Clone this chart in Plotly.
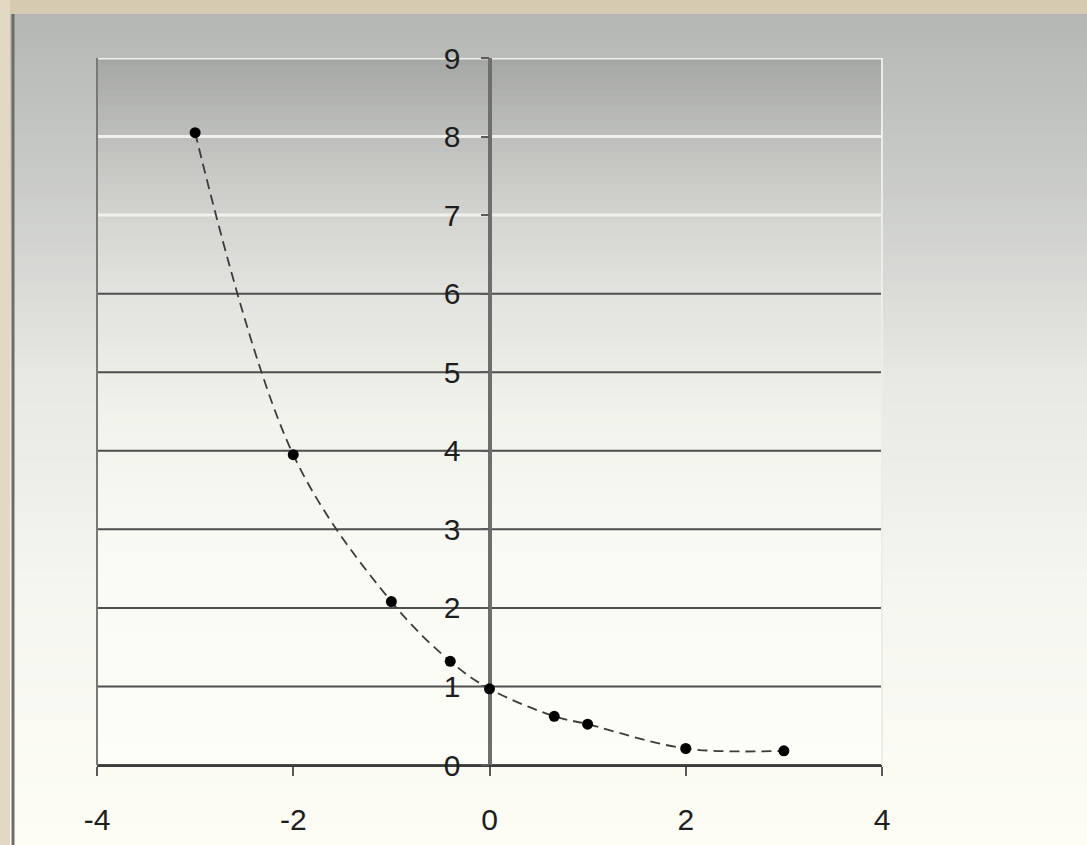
import plotly.graph_objects as go

# ---- data ----
x_vals = [-3, -2, -1, -0.4, 0, 0.66, 1, 2, 3]
y_vals = [8.05, 3.95, 2.08, 1.32, 0.97, 0.62, 0.52, 0.21, 0.18]
x_ticks = [-4, -2, 0, 2, 4]
x_tick_labels = ["-4", "-2", "0", "2", "4"]
y_ticks = [0, 1, 2, 3, 4, 5, 6, 7, 8, 9]
light_grid = [7, 8, 9]

W, H = 1087, 845
L, R, T, B = 97, 205, 58, 80
PW, PH = W - L - R, H - T - B

def lerp(c1, c2, t):
    return tuple(int(round(a + (b - a) * t)) for a, b in zip(c1, c2))

def rgb(c):
    return "rgb(%d,%d,%d)" % c

def grad(stops, t):
    for (p0, c0), (p1, c1) in zip(stops[:-1], stops[1:]):
        if p0 <= t <= p1:
            return lerp(c0, c1, (t - p0) / (p1 - p0))
    return stops[-1][1]

shapes = []
N = 90
# outer page gradient
stops_outer = [(0.0, (178, 181, 178)), (0.2, (200, 202, 199)), (0.45, (232, 232, 228)),
               (0.7, (246, 246, 240)), (1.0, (253, 253, 246))]
for i in range(N):
    t0, t1 = i / N, (i + 1) / N
    c = grad(stops_outer, (t0 + t1) / 2)
    shapes.append(dict(type="rect", xref="paper", yref="paper", layer="below",
                       x0=-L / PW, x1=1 + R / PW,
                       y0=1 + T / PH - t1 * H / PH - 0.002,
                       y1=1 + T / PH - t0 * H / PH,
                       line=dict(width=0), fillcolor=rgb(c)))
# plot-area gradient
stops_plot = [(0.0, (165, 167, 164)), (0.11, (190, 191, 188)), (0.22, (211, 211, 207)),
              (0.33, (226, 226, 222)), (0.5, (242, 242, 236)), (0.7, (250, 250, 244)),
              (1.0, (254, 254, 248))]
for i in range(N):
    t0, t1 = i / N, (i + 1) / N
    c = grad(stops_plot, (t0 + t1) / 2)
    shapes.append(dict(type="rect", xref="x domain", yref="y domain", layer="below",
                       x0=0, x1=1, y0=1 - t1 - 0.002, y1=1 - t0,
                       line=dict(width=0), fillcolor=rgb(c)))
# tan frame top and left
shapes.append(dict(type="rect", xref="paper", yref="paper", layer="below",
                   x0=-L / PW, x1=1 + R / PW,
                   y0=1 + (T - 14) / PH, y1=1 + T / PH,
                   line=dict(width=0), fillcolor="rgb(214,202,176)"))
shapes.append(dict(type="rect", xref="paper", yref="paper", layer="below",
                   x0=-L / PW, x1=-(L - 10) / PW,
                   y0=-B / PH, y1=1 + T / PH,
                   line=dict(width=0), fillcolor="rgb(226,216,196)"))
shapes.append(dict(type="line", xref="paper", yref="paper", layer="below",
                   x0=-(L - 13) / PW, x1=-(L - 13) / PW,
                   y0=-B / PH, y1=1 + (T - 14) / PH,
                   line=dict(width=3, color="rgb(110,110,105)")))
# gridlines (light in the darker top region, dark elsewhere)
for g in y_ticks:
    col = "rgb(240,240,236)" if g in light_grid else "rgb(78,78,78)"
    shapes.append(dict(type="line", xref="x domain", yref="y", layer="below",
                       x0=0, x1=1, y0=g, y1=g,
                       line=dict(width=3 if g in light_grid else 2, color=col)))
# plot borders
shapes.append(dict(type="line", xref="x domain", yref="y domain", layer="below",
                   x0=0, x1=0, y0=0, y1=1, line=dict(width=2, color="rgb(120,120,118)")))
shapes.append(dict(type="line", xref="x domain", yref="y domain", layer="below",
                   x0=1, x1=1, y0=0, y1=1, line=dict(width=2, color="rgb(236,236,232)")))

fig = go.Figure()
fig.add_trace(go.Scatter(
    x=x_vals, y=y_vals, mode="lines+markers",
    line=dict(shape="spline", smoothing=1.0, dash="10px,6px", color="rgb(60,60,60)", width=1.8),
    marker=dict(size=11, color="black"),
    showlegend=False, hoverinfo="skip"))

fig.update_layout(
    width=W, height=H, autosize=False,
    margin=dict(l=L, r=R, t=T, b=B, autoexpand=False),
    paper_bgcolor="rgb(240,240,236)",
    plot_bgcolor="rgba(0,0,0,0)",
    font=dict(family="Liberation Sans, Arial, sans-serif", size=30, color="rgb(30,30,30)"),
    shapes=shapes,
    xaxis=dict(range=[-4, 4], tickvals=x_ticks, ticktext=x_tick_labels,
               ticks="outside", ticklen=9, tickwidth=2,
               tickcolor="rgb(90,90,90)", showgrid=False, automargin=False,
               zeroline=True, zerolinecolor="rgb(110,110,110)", zerolinewidth=3,
               showline=True, linecolor="rgb(60,60,60)", linewidth=2,
               ticklabelstandoff=18, domain=[0, 1], layer="below traces"),
    yaxis=dict(range=[0, 9], tickvals=y_ticks, ticks="outside", ticklen=8, tickwidth=2,
               tickcolor="rgb(90,90,90)", showgrid=False, automargin=False,
               zeroline=False, showline=True, linecolor="rgb(110,110,110)", linewidth=3,
               anchor="free", position=0.5, ticklabelstandoff=14, layer="below traces"),
)

fig.write_html("out.html", config={"displayModeBar": False},
               post_script="document.body.style.margin='0';")
